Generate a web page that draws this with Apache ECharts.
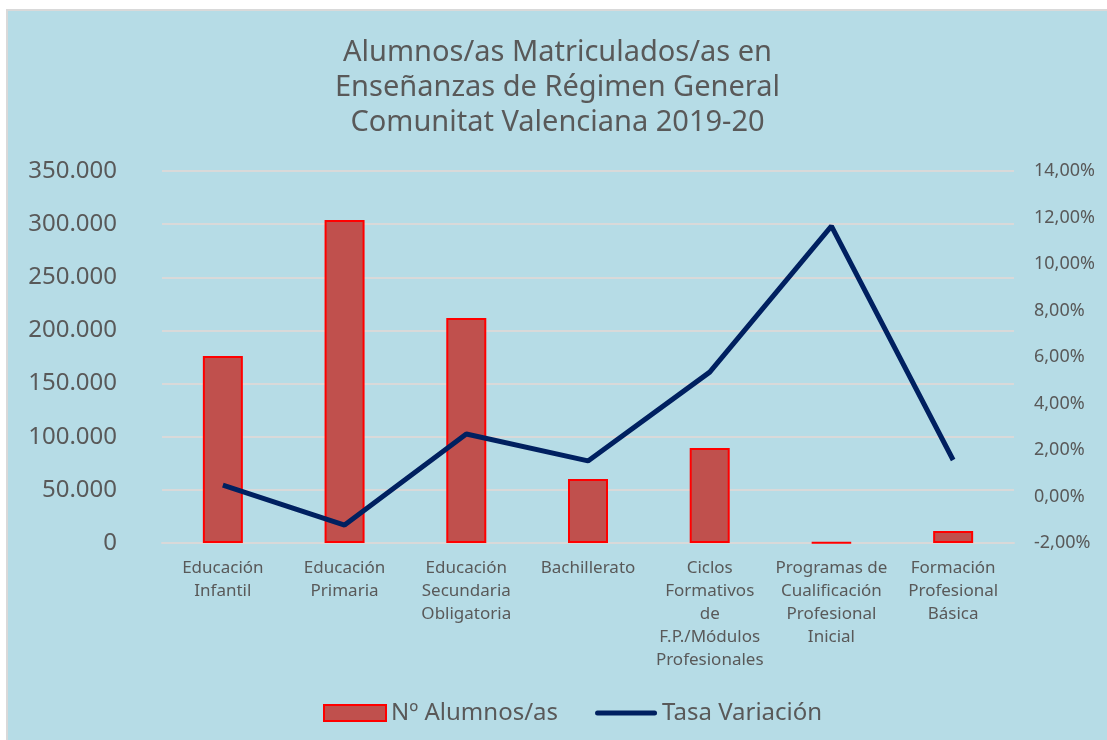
<!DOCTYPE html>
<html>
<head>
<meta charset="utf-8">
<script src="https://cdn.jsdelivr.net/npm/echarts@6/dist/echarts.min.js"></script>
<style>
  body { margin: 0; background: #fff; }
  #wrap { position: absolute; left: 6px; top: 9px; width: 1101px; height: 731px; border-left: 2px solid #d9d9d9; border-top: 2px solid #d9d9d9; background: #b6dce6; }
  #chart { width: 1099px; height: 729px; }
</style>
</head>
<body>
<div id="wrap"><div id="chart"></div></div>
<script>
const categories = [
  'Educación\nInfantil',
  'Educación\nPrimaria',
  'Educación\nSecundaria\nObligatoria',
  'Bachillerato',
  'Ciclos\nFormativos\nde\nF.P./Módulos\nProfesionales',
  'Programas de\nCualificación\nProfesional\nInicial',
  'Formación\nProfesional\nBásica'
];
const alumnos = [175900, 304000, 211700, 60200, 89400, 400, 11300];
const tasaVariacion = [0.0049, -0.0123, 0.0269, 0.0153, 0.0535, 0.1163, 0.0157];
const leftTicks = { min: 0, max: 350000, interval: 50000 };
const rightTicks = { min: -0.02, max: 0.14, interval: 0.02 };

const textColor = '#595959';
const fontName = 'Noto Sans, sans-serif';

const fmtMiles = v => v === 0 ? '0' : v.toLocaleString('de-DE');
const fmtPct = v => (v * 100).toFixed(2).replace('.', ',') + '%';

const myChart = echarts.init(document.getElementById('chart'));
const option = {
  backgroundColor: 'rgba(0,0,0,0)',
  animation: false,
  title: {
    text: 'Alumnos/as Matriculados/as en\nEnseñanzas de Régimen General\nComunitat Valenciana 2019-20',
    left: 'center',
    top: 19,
    textStyle: {
      color: textColor,
      fontSize: 29,
      fontWeight: 'normal',
      fontFamily: fontName,
      lineHeight: 35
    }
  },
  legend: {
    bottom: 10,
    left: 310,
    itemGap: 37,
    itemWidth: 62,
    itemHeight: 16,
    textStyle: { color: textColor, fontSize: 24, fontFamily: fontName },
    data: [
      { name: 'Nº Alumnos/as', icon: 'rect' },
      // rounded thick line, like the original
      { name: 'Tasa Variación', icon: 'path://M2.5,0 L59.5,0 A2.5,2.5 0 0 1 59.5,5 L2.5,5 A2.5,2.5 0 0 1 2.5,0 Z' }
    ]
  },
  grid: { left: 154, right: 93, top: 160, bottom: 197 },
  xAxis: {
    type: 'category',
    data: categories,
    axisLine: { lineStyle: { color: '#d9d9d9', width: 2 } },
    axisTick: { show: false },
    axisLabel: {
      interval: 0,
      margin: 14,
      color: textColor,
      fontSize: 17,
      lineHeight: 23,
      fontFamily: fontName
    }
  },
  yAxis: [
    {
      type: 'value',
      min: leftTicks.min,
      max: leftTicks.max,
      interval: leftTicks.interval,
      axisLine: { show: false },
      axisTick: { show: false },
      splitLine: { lineStyle: { color: '#d9d9d9', width: 2 } },
      axisLabel: {
        color: textColor,
        fontSize: 24,
        margin: 45,
        fontFamily: fontName,
        formatter: fmtMiles
      }
    },
    {
      type: 'value',
      min: rightTicks.min,
      max: rightTicks.max,
      interval: rightTicks.interval,
      axisLine: { show: false },
      axisTick: { show: false },
      splitLine: { show: false },
      axisLabel: {
        color: textColor,
        fontSize: 18,
        margin: 20,
        fontFamily: fontName,
        formatter: fmtPct
      }
    }
  ],
  series: [
    {
      name: 'Nº Alumnos/as',
      type: 'bar',
      data: alumnos,
      barWidth: 40,
      itemStyle: { color: '#c0504d', borderColor: '#ff0000', borderWidth: 2 }
    },
    {
      name: 'Tasa Variación',
      type: 'line',
      yAxisIndex: 1,
      data: tasaVariacion,
      symbol: 'none',
      lineStyle: { color: '#002060', width: 5 },
      itemStyle: { color: '#002060' }
    }
  ]
};
myChart.setOption(option);
</script>
</body>
</html>
